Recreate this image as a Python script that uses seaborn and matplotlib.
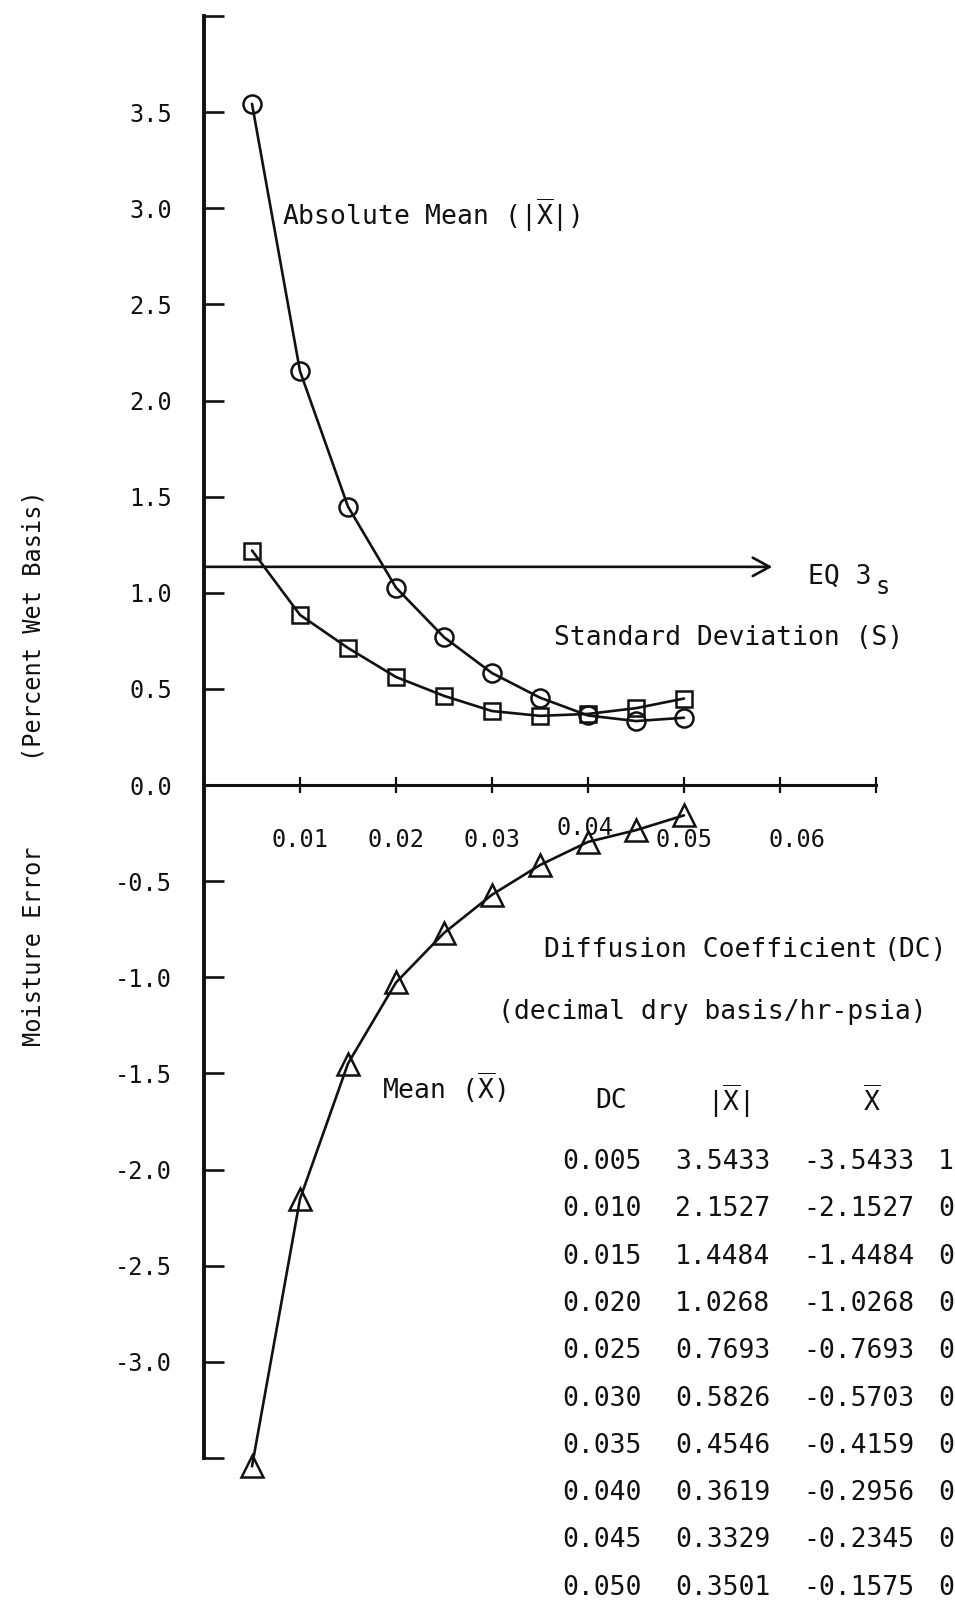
import numpy as np
import pandas as pd
import matplotlib
matplotlib.use("Agg")
import matplotlib.pyplot as plt
import matplotlib.transforms as mtransforms
import seaborn as sns

# ---------------- data ----------------
dc = [0.005, 0.010, 0.015, 0.020, 0.025, 0.030, 0.035, 0.040, 0.045, 0.050]
abs_mean = [3.5433, 2.1527, 1.4484, 1.0268, 0.7693, 0.5826, 0.4546, 0.3619, 0.3329, 0.3501]
mean = [-3.5433, -2.1527, -1.4484, -1.0268, -0.7693, -0.5703, -0.4159, -0.2956, -0.2345, -0.1575]
std_dev = [1.22, 0.885, 0.713, 0.562, 0.464, 0.385, 0.360, 0.370, 0.400, 0.450]

dc_labels = ["0.005", "0.010", "0.015", "0.020", "0.025", "0.030", "0.035", "0.040", "0.045", "0.050"]
abs_labels = ["3.5433", "2.1527", "1.4484", "1.0268", "0.7693", "0.5826", "0.4546", "0.3619", "0.3329", "0.3501"]
mean_labels = ["-3.5433", "-2.1527", "-1.4484", "-1.0268", "-0.7693", "-0.5703", "-0.4159", "-0.2956", "-0.2345", "-0.1575"]
std_labels = ["1.2200", "0.8850", "0.7130", "0.5620", "0.4640", "0.3850", "0.3600", "0.3700", "0.4000", "0.4500"]

x_ticks = [0.01, 0.02, 0.03, 0.04, 0.05, 0.06, 0.07]
x_ticklabels = ["0.01", "0.02", "0.03", "0.04", "0.05", "0.06", ""]
y_ticks = [-3.5, -3.0, -2.5, -2.0, -1.5, -1.0, -0.5, 0.0, 0.5, 1.0, 1.5, 2.0, 2.5, 3.0, 3.5, 4.0]
y_ticklabels = ["", "-3.0", "-2.5", "-2.0", "-1.5", "-1.0", "-0.5", "0.0",
                "0.5", "1.0", "1.5", "2.0", "2.5", "3.0", "3.5", ""]

eq3s_level = 1.135
eq3s_end = 0.0592

df = pd.DataFrame({"dc": dc, "abs_mean": abs_mean, "mean": mean, "std": std_dev})

# ---------------- style ----------------
sns.set_style("white")
MONO = ["DejaVu Sans Mono", "DejaVu Sans"]
plt.rcParams["font.family"] = MONO
plt.rcParams["mathtext.fontset"] = "dejavusans"
plt.rcParams["axes.unicode_minus"] = False

W, H = 955, 1604
fig = plt.figure(figsize=(W / 100, H / 100), dpi=100)
fig.patch.set_facecolor("white")

# axes frame: x 0..0.07 -> px 204..876, y -3.5..4.0 -> px 1458..16
ax = fig.add_axes([204 / W, (H - 1458) / H, 672 / W, 1442 / H])
ax.set_facecolor("white")
ax.set_xlim(0, 0.07)
ax.set_ylim(-3.5, 4.0)

INK = "#111111"
line_kw = dict(color=INK, linewidth=1.9, markerfacecolor="none",
               markeredgecolor=INK, markeredgewidth=1.8, clip_on=False)

sns.lineplot(data=df, x="dc", y="abs_mean", marker="o", markersize=13, ax=ax, **line_kw)
sns.lineplot(data=df, x="dc", y="std", marker="s", markersize=11, ax=ax, **line_kw)
sns.lineplot(data=df, x="dc", y="mean", marker="^", markersize=15.5, ax=ax, **line_kw)

# EQ 3s arrow
ax.annotate("", xy=(eq3s_end, eq3s_level), xytext=(0, eq3s_level),
            arrowprops=dict(arrowstyle="->,head_length=0.55,head_width=0.3",
                            lw=1.9, color=INK, mutation_scale=22, shrinkA=0, shrinkB=0),
            annotation_clip=False)

# spines
for s in ["top", "right"]:
    ax.spines[s].set_visible(False)
ax.spines["left"].set_linewidth(2.8)
ax.spines["left"].set_color(INK)
ax.spines["bottom"].set_position(("data", 0))
ax.spines["bottom"].set_linewidth(2.2)
ax.spines["bottom"].set_color(INK)

ax.set_yticks(y_ticks)
ax.set_yticklabels(y_ticklabels)
ax.tick_params(axis="y", direction="in", length=14.5, width=1.9, color=INK,
               pad=23, labelsize=17, labelcolor=INK, left=True)
ax.set_xticks(x_ticks)
ax.set_xticklabels(x_ticklabels)
ax.tick_params(axis="x", direction="inout", length=12, width=1.6, color=INK,
               pad=25, labelsize=17, labelcolor=INK, bottom=True)

# nudge the 0.04 label up and the 0.06 label right, as typed on the original
for lbl in ax.get_xticklabels():
    t = lbl.get_text()
    if t == "0.04":
        lbl.set_transform(lbl.get_transform() + mtransforms.ScaledTranslation(-2 / 72, 9 / 72, fig.dpi_scale_trans))
    elif t == "0.06":
        lbl.set_transform(lbl.get_transform() + mtransforms.ScaledTranslation(12 / 72, 0, fig.dpi_scale_trans))

ax.set_xlabel("")
ax.set_ylabel("")


def P(x, y):
    return x / W, 1 - y / H


XBAR = r"$\overline{\mathtt{X}}$"
TS = 19

fig.text(*P(34, 768), "Moisture Error      (Percent Wet Basis)", rotation=90,
         ha="center", va="center", fontsize=17, color=INK)

fig.text(*P(282, 215), "Absolute Mean (|" + XBAR + "|)", ha="left", va="center",
         fontsize=TS, color=INK)
fig.text(*P(808, 577), "EQ 3", ha="left", va="center", fontsize=TS, color=INK)
fig.text(*P(876, 587), "s", ha="left", va="center", fontsize=17, color=INK)
fig.text(*P(554, 638), "Standard Deviation (S)", ha="left", va="center", fontsize=TS, color=INK)
fig.text(*P(544, 950), "Diffusion Coefficient", ha="left", va="center", fontsize=TS, color=INK)
fig.text(*P(947, 950), "(DC)", ha="right", va="center", fontsize=TS, color=INK)
fig.text(*P(498, 1012), "(decimal dry basis/hr-psia)", ha="left", va="center", fontsize=TS, color=INK)
fig.text(*P(382, 1088), "Mean (" + XBAR + ")", ha="left", va="center", fontsize=TS, color=INK)

# table
fig.text(*P(611, 1101), "DC", ha="center", va="center", fontsize=TS, color=INK)
fig.text(*P(728, 1101), "|" + XBAR + "|", ha="center", va="center", fontsize=TS, color=INK)
fig.text(*P(872, 1101), XBAR, ha="center", va="center", fontsize=TS, color=INK)

col_x = [562, 675, 803, 938]
row0, row_step = 1162, 47.3
for i in range(len(dc_labels)):
    y = row0 + i * row_step
    for cx, txt in zip(col_x, [dc_labels[i], abs_labels[i], mean_labels[i], std_labels[i]]):
        fig.text(*P(cx, y), txt, ha="left", va="center", fontsize=TS, color=INK)

fig.savefig("out.png", dpi=100, facecolor="white")
